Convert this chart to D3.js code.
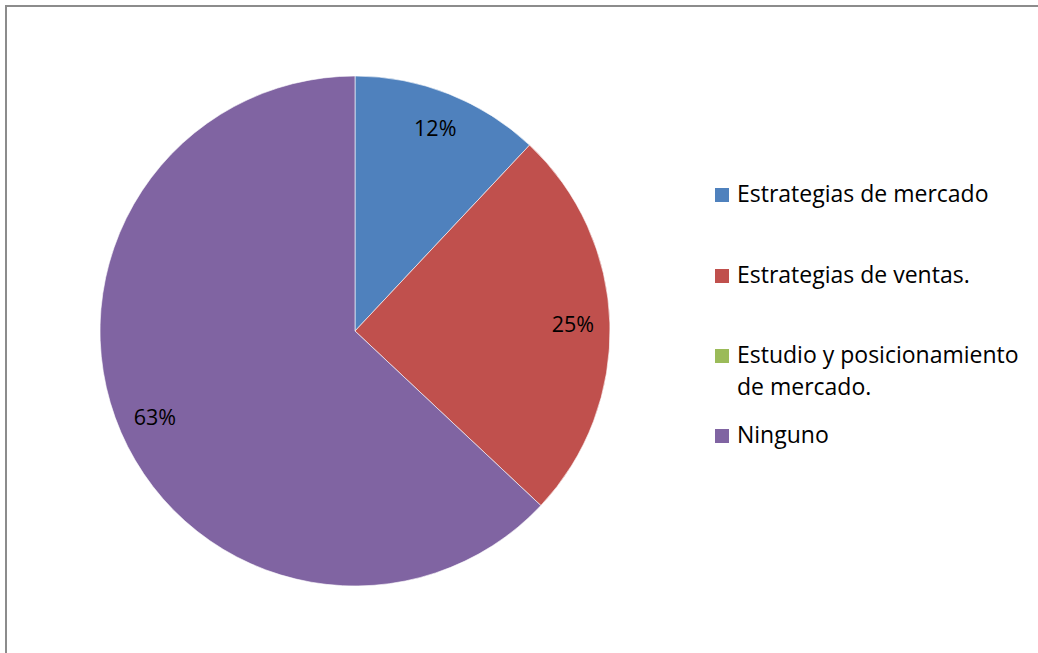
<!DOCTYPE html>
<html>
<head>
<meta charset="utf-8">
<script src="https://cdn.jsdelivr.net/npm/d3@7"></script>
<style>
  html, body { margin: 0; padding: 0; background: #fff; }
  svg { display: block; }
  text { font-family: "Open Sans", "Noto Sans", sans-serif; fill: #000; }
</style>
</head>
<body>
<svg id="chart" width="1038" height="653"></svg>
<script>
// Categories, values (percent) and the labels printed on the slices
const categories = ["Estrategias de mercado", "Estrategias de ventas.", "Estudio y posicionamiento de mercado.", "Ninguno"];
const legendLines = [["Estrategias de mercado"], ["Estrategias de ventas."], ["Estudio y posicionamiento", "de mercado."], ["Ninguno"]];
const values = [12, 25, 0, 63];
const sliceLabels = ["12%", "25%", "", "63%"];
const colors = ["#4F81BD", "#C0504D", "#9BBB59", "#8064A2"];

const svg = d3.select("#chart");

// Chart frame (top and left edges visible)
svg.append("path")
  .attr("d", "M6,653 L6,6 L1038,6")
  .attr("fill", "none")
  .attr("stroke", "#8c8c8c")
  .attr("stroke-width", 2);

const cx = 355, cy = 331, radius = 255;
const data = categories.map((c, i) => ({ cat: c, value: values[i], label: sliceLabels[i], color: colors[i] }));

const pie = d3.pie().sort(null).value(d => d.value);
const arc = d3.arc().innerRadius(0).outerRadius(radius);
const labelArc = d3.arc().innerRadius(218).outerRadius(218);

const g = svg.append("g").attr("transform", `translate(${cx},${cy})`);
const arcs = pie(data);

g.selectAll("path.slice")
  .data(arcs)
  .join("path")
  .attr("class", "slice")
  .attr("d", arc)
  .attr("fill", d => d.data.color)
  .attr("stroke", d => d.data.value > 0 ? "rgba(255,255,255,0.6)" : "none")
  .attr("stroke-width", 1);

g.selectAll("text.pct")
  .data(arcs.filter(d => d.data.label))
  .join("text")
  .attr("class", "pct")
  .attr("transform", d => `translate(${labelArc.centroid(d)})`)
  .attr("text-anchor", "middle")
  .attr("dy", "0.35em")
  .attr("font-size", 21.5)
  .text(d => d.data.label);

// Legend
const legendRows = [202, 283, 363, 443];
const legend = svg.append("g");
data.forEach((d, i) => {
  const y = legendRows[i];
  legend.append("rect")
    .attr("x", 715).attr("y", y - 14)
    .attr("width", 14).attr("height", 14)
    .attr("fill", d.color);
  const t = legend.append("text")
    .attr("x", 737).attr("y", y)
    .attr("font-size", 23);
  legendLines[i].forEach((line, k) => {
    t.append("tspan").attr("x", 737).attr("y", y + k * 32).text(line);
  });
});
</script>
</body>
</html>
